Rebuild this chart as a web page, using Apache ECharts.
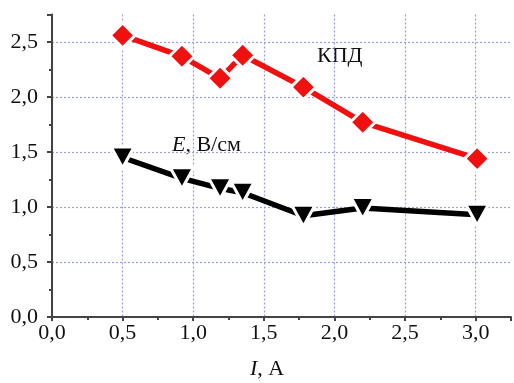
<!DOCTYPE html>
<html>
<head>
<meta charset="utf-8">
<script src="https://cdn.jsdelivr.net/npm/echarts@6/dist/echarts.min.js"></script>
<style>
html, body { margin: 0; padding: 0; background: #fff; }
#chart { width: 514px; height: 383px; }
</style>
</head>
<body>
<div id="chart"></div>
<script>
// current I, A
const currentKPD = [0.5, 0.92, 1.19, 1.35, 1.78, 2.2, 3.01]
const valuesKPD = [2.56, 2.37, 2.17, 2.38, 2.09, 1.77, 1.44]
const currentE = [0.5, 0.92, 1.19, 1.35, 1.78, 2.2, 3.01]
const valuesE = [1.45, 1.26, 1.17, 1.13, 0.92, 0.99, 0.93]

const serif = '"Liberation Serif", "DejaVu Serif", serif'

function comma (v) {
  return v.toFixed(1).replace('.', ',')
}

const chart = echarts.init(document.getElementById('chart'))

chart.setOption({
  backgroundColor: '#fff',
  animation: false,
  grid: {
    left: 52,
    top: 14.5,
    width: 464.5,
    height: 302.5
  },
  xAxis: {
    type: 'value',
    min: 0,
    max: 3.25,
    interval: 0.5,
    axisLine: { show: true, onZero: false, lineStyle: { color: '#444', width: 2 } },
    axisTick: { show: true, length: 4, lineStyle: { color: '#444', width: 2 } },
    minorTick: { show: true, splitNumber: 2, length: 3, lineStyle: { color: '#444', width: 2 } },
    splitLine: { show: true, showMaxLine: false, lineStyle: { color: '#9a9ee0', type: [2, 2], width: 1.2 } },
    axisLabel: {
      margin: 5,
      fontFamily: serif,
      fontSize: 22,
      color: '#111',
      formatter: function (v) { return v > 3.1 ? '' : comma(v) }
    }
  },
  yAxis: {
    type: 'value',
    min: 0,
    max: 2.75,
    interval: 0.5,
    axisLine: { show: true, lineStyle: { color: '#444', width: 2 } },
    axisTick: { show: true, length: 5, lineStyle: { color: '#444', width: 2 } },
    minorTick: { show: true, splitNumber: 2, length: 3, lineStyle: { color: '#444', width: 2 } },
    splitLine: { show: true, showMaxLine: false, lineStyle: { color: '#9a9ee0', type: [2, 2], width: 1.2 } },
    axisLabel: {
      margin: 14,
      fontFamily: serif,
      fontSize: 22,
      color: '#111',
      formatter: function (v) { return v > 2.6 ? '' : comma(v) }
    }
  },
  graphic: [
    {
      type: 'text',
      left: 317,
      top: 45,
      style: { text: 'КПД', font: '22px ' + serif, fill: '#111' }
    },
    {
      type: 'text',
      left: 172,
      top: 134,
      style: {
        text: '{i|E}, В/см',
        font: '22px ' + serif,
        fill: '#111',
        rich: { i: { fontStyle: 'italic', fontFamily: serif, fontSize: 22, fill: '#111' } }
      }
    },
    {
      type: 'text',
      left: 250,
      top: 358,
      style: {
        text: '{i|I}, А',
        font: '22px ' + serif,
        fill: '#111',
        rich: { i: { fontStyle: 'italic', fontFamily: serif, fontSize: 22, fill: '#111' } }
      }
    }
  ],
  series: [
    {
      name: 'КПД',
      type: 'line',
      data: currentKPD.map((x, i) => [x, valuesKPD[i]]),
      symbol: 'diamond',
      symbolSize: 25,
      lineStyle: { color: '#f01010', width: 5.5 },
      itemStyle: { color: '#f01010', borderColor: '#fff', borderWidth: 3 }
    },
    {
      name: 'E',
      type: 'line',
      data: currentE.map((x, i) => [x, valuesE[i]]),
      symbol: 'triangle',
      symbolRotate: 180,
      symbolSize: [23, 21],
      lineStyle: { color: '#000', width: 5.5 },
      itemStyle: { color: '#000', borderColor: '#fff', borderWidth: 3 }
    }
  ]
})
</script>
</body>
</html>
